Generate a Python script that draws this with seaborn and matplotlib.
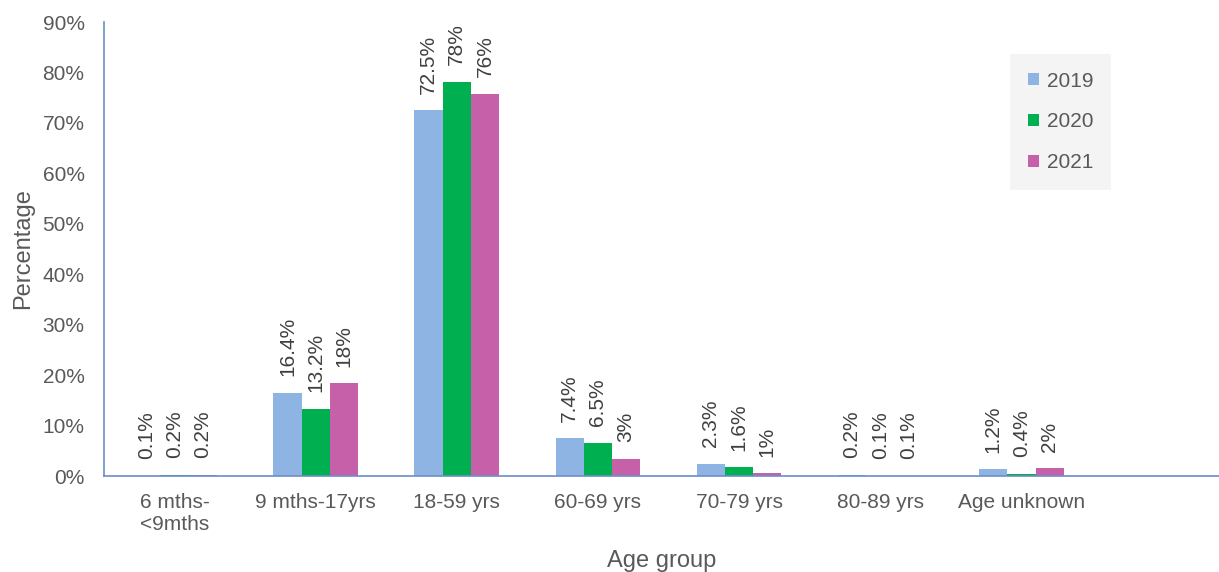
import seaborn as sns
import matplotlib.pyplot as plt
import pandas as pd

# data
ages = ['6 mths-\n<9mths', '9 mths-17yrs', '18-59 yrs', '60-69 yrs',
        '70-79 yrs', '80-89 yrs', 'Age unknown']
years = ['2019', '2020', '2021']
vals_2019 = [0.1, 16.5, 72.5, 7.5, 2.4, 0.2, 1.3]
vals_2020 = [0.2, 13.3, 78.1, 6.6, 1.7, 0.1, 0.4]
vals_2021 = [0.2, 18.4, 75.8, 3.4, 0.5, 0.1, 1.5]
labels_2019 = ['0.1%', '16.4%', '72.5%', '7.4%', '2.3%', '0.2%', '1.2%']
labels_2020 = ['0.2%', '13.2%', '78%', '6.5%', '1.6%', '0.1%', '0.4%']
labels_2021 = ['0.2%', '18%', '76%', '3%', '1%', '0.1%', '2%']
colors = ['#8EB4E3', '#00B050', '#C660A8']

df = pd.DataFrame({
    'age': ages * 3,
    'year': [y for y in years for _ in ages],
    'value': vals_2019 + vals_2020 + vals_2021,
})

sns.set_style('white')
plt.rcParams['font.family'] = ['Liberation Sans', 'DejaVu Sans']

fig = plt.figure(figsize=(12.19, 5.72), dpi=100)
ax = fig.add_axes([0.0853, 0.1678, 0.9147, 0.7937])

sns.barplot(data=df, x='age', y='value', hue='year', order=ages,
            hue_order=years, palette=colors, saturation=1, width=0.6,
            linewidth=0, ax=ax)

for cont, labs in zip(ax.containers, [labels_2019, labels_2020, labels_2021]):
    ax.bar_label(cont, labels=labs, rotation=90, padding=12,
                 fontsize=15, color='#404040')

ax.set_xlim(-0.5, 7.4)
ax.set_ylim(0, 90)
ax.set_yticks(range(0, 91, 10))
ax.set_yticklabels([f'{v}%' for v in range(0, 91, 10)])
ax.tick_params(axis='both', labelsize=15, colors='#595959', length=0)
ax.tick_params(axis='y', pad=14)
ax.tick_params(axis='x', pad=12)

for s in ['top', 'right']:
    ax.spines[s].set_visible(False)
for s in ['left', 'bottom']:
    ax.spines[s].set_color('#6A8FC8')
    ax.spines[s].set_linewidth(1.2)

ax.set_xlabel('Age group', fontsize=17, color='#595959', labelpad=12)
ax.set_ylabel('Percentage', fontsize=17, color='#595959', labelpad=6)

leg = ax.legend(loc='upper right', bbox_to_anchor=(0.903, 0.93),
                fontsize=15, frameon=True, facecolor='#F2F2F2',
                edgecolor='none', fancybox=False, labelspacing=1.05,
                handlelength=0.55, handleheight=0.55, handletextpad=0.35,
                borderpad=0.85, borderaxespad=0)
for t in leg.get_texts():
    t.set_color('#595959')

plt.savefig('out.png', dpi=100)
